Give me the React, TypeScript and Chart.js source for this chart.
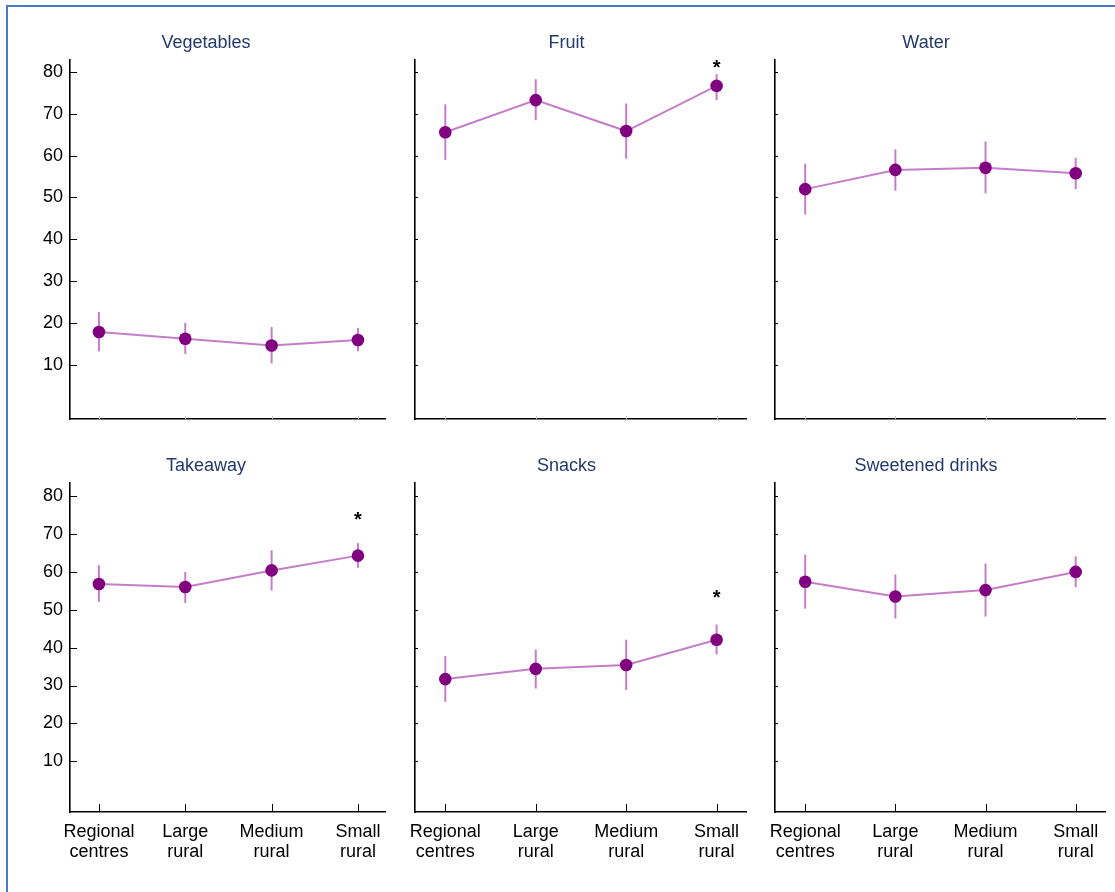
import React, { useEffect, useRef } from "react";
import { Chart, registerables } from "chart.js";

Chart.register(...registerables);

const FONT = "'Liberation Sans', Arial, sans-serif";

// ---- data ----
const categories = [
  ["Regional", "centres"],
  ["Large", "rural"],
  ["Medium", "rural"],
  ["Small", "rural"],
];
const yTickValues = [10, 20, 30, 40, 50, 60, 70, 80];

const vegetablesMean = [17.8, 16.2, 14.6, 15.9];
const vegetablesLow = [13.2, 12.6, 10.3, 13.2];
const vegetablesHigh = [22.6, 20.0, 19.0, 18.8];

const fruitMean = [65.6, 73.3, 65.9, 76.7];
const fruitLow = [59.0, 68.5, 59.3, 73.3];
const fruitHigh = [72.3, 78.3, 72.5, 79.5];

const waterMean = [52.0, 56.6, 57.1, 55.8];
const waterLow = [45.9, 51.6, 51.0, 52.0];
const waterHigh = [58.1, 61.5, 63.4, 59.5];

const takeawayMean = [56.8, 56.0, 60.4, 64.3];
const takeawayLow = [52.1, 51.8, 55.1, 61.1];
const takeawayHigh = [61.8, 60.0, 65.7, 67.6];

const snacksMean = [31.7, 34.4, 35.4, 42.1];
const snacksLow = [25.7, 29.2, 28.8, 38.2];
const snacksHigh = [37.8, 39.5, 42.1, 46.1];

const drinksMean = [57.4, 53.5, 55.2, 60.0];
const drinksLow = [50.3, 47.7, 48.2, 56.0];
const drinksHigh = [64.6, 59.3, 62.2, 64.1];

// y value at which a significance "*" is placed (null = none)
const vegetablesStars = [null, null, null, null];
const fruitStars = [null, null, null, 82.3];
const waterStars = [null, null, null, null];
const takeawayStars = [null, null, null, 75.2];
const snacksStars = [null, null, null, 54.6];
const drinksStars = [null, null, null, null];

const panels = [
  { title: "Vegetables", mean: vegetablesMean, low: vegetablesLow, high: vegetablesHigh, stars: vegetablesStars, row: 0, col: 0 },
  { title: "Fruit", mean: fruitMean, low: fruitLow, high: fruitHigh, stars: fruitStars, row: 0, col: 1 },
  { title: "Water", mean: waterMean, low: waterLow, high: waterHigh, stars: waterStars, row: 0, col: 2 },
  { title: "Takeaway", mean: takeawayMean, low: takeawayLow, high: takeawayHigh, stars: takeawayStars, row: 1, col: 0 },
  { title: "Snacks", mean: snacksMean, low: snacksLow, high: snacksHigh, stars: snacksStars, row: 1, col: 1 },
  { title: "Sweetened drinks", mean: drinksMean, low: drinksLow, high: drinksHigh, stars: drinksStars, row: 1, col: 2 },
];

// ---- layout ----
const colLeft = [26, 387, 747];
const colWidth = 360;
const colYAxisWidth = [44, 28, 28];
const colPadRight = [0, 1, 2];
const rowTop = [31, 455];
const rowHeight = [408, 413];
const rowXAxisHeight = [20, 56];
const rowTitlePad = [
  { top: 1, bottom: 6.4 },
  { top: 0, bottom: 6.7 },
];
const rowYRange = [
  [-3, 82.9],
  [-3.4, 83.4],
];

const LINE_COLOR = "#c47ec9";
const POINT_COLOR = "#800080";
const TITLE_COLOR = "#22396a";

function makeDecor(p: any) {
  return {
    id: "decor",
    beforeDatasetsDraw(chart: any) {
      const ctx = chart.ctx;
      const xs = chart.scales.x;
      const ys = chart.scales.y;
      ctx.save();
      ctx.strokeStyle = LINE_COLOR;
      ctx.lineWidth = 2;
      p.mean.forEach((_: number, i: number) => {
        const x = xs.getPixelForValue(i);
        ctx.beginPath();
        ctx.moveTo(x, ys.getPixelForValue(p.low[i]));
        ctx.lineTo(x, ys.getPixelForValue(p.high[i]));
        ctx.stroke();
      });
      ctx.restore();
    },
    afterDraw(chart: any) {
      const ctx = chart.ctx;
      const xs = chart.scales.x;
      const ys = chart.scales.y;
      const area = chart.chartArea;
      ctx.save();
      // inward y ticks
      ctx.strokeStyle = "#000";
      ctx.lineWidth = 1;
      const yLen = p.col === 0 ? 7 : 3;
      yTickValues.forEach((v) => {
        const y = Math.round(ys.getPixelForValue(v)) + 0.5;
        ctx.beginPath();
        ctx.moveTo(area.left, y);
        ctx.lineTo(area.left + yLen, y);
        ctx.stroke();
      });
      // inward x ticks
      ctx.strokeStyle = p.row === 1 ? "#000" : "#c8c8c8";
      const xLen = p.row === 1 ? 8 : 3;
      categories.forEach((_, i) => {
        const x = Math.round(xs.getPixelForValue(i)) + 0.5;
        ctx.beginPath();
        ctx.moveTo(x, area.bottom);
        ctx.lineTo(x, area.bottom - xLen);
        ctx.stroke();
      });
      // significance stars
      ctx.fillStyle = "#000";
      ctx.font = `bold 20px ${FONT}`;
      ctx.textAlign = "center";
      ctx.textBaseline = "alphabetic";
      p.stars.forEach((s: number | null, i: number) => {
        if (s === null) return;
        const x = xs.getPixelForValue(i);
        const y = ys.getPixelForValue(s);
        ctx.fillText("*", x, y + 0.57 * 20);
      });
      ctx.restore();
    },
  };
}

function Panel({ p }: { p: any }) {
  const ref = useRef<HTMLCanvasElement>(null);
  useEffect(() => {
    if (!ref.current) return;
    const border = { display: true, color: "#000", width: 1.6 };
    const chart = new Chart(ref.current, {
      type: "line",
      data: {
        datasets: [
          {
            data: p.mean.map((v: number, i: number) => ({ x: i, y: v })),
            borderColor: LINE_COLOR,
            borderWidth: 2,
            pointRadius: 6.3,
            pointBackgroundColor: POINT_COLOR,
            pointBorderColor: POINT_COLOR,
            pointBorderWidth: 0,
            tension: 0,
          },
        ],
      },
      options: {
        responsive: false,
        animation: false,
        devicePixelRatio: 1,
        layout: { autoPadding: false, padding: { left: 0, right: colPadRight[p.col], top: 0, bottom: 0 } },
        plugins: {
          legend: { display: false },
          tooltip: { enabled: false },
          title: {
            display: true,
            text: p.title,
            color: TITLE_COLOR,
            font: { size: 18, family: FONT, weight: "normal", lineHeight: 1.2 },
            padding: rowTitlePad[p.row],
          },
        },
        scales: {
          x: {
            type: "linear",
            min: -0.335,
            max: 3.325,
            grid: { display: false, drawTicks: false },
            border,
            afterBuildTicks: (s: any) => {
              s.ticks = categories.map((_, i) => ({ value: i }));
            },
            afterFit: (s: any) => {
              s.height = rowXAxisHeight[p.row];
              s.paddingLeft = 0;
              s.paddingRight = 0;
            },
            ticks: {
              display: p.row === 1,
              padding: 10,
              color: "#000",
              maxRotation: 0,
              autoSkip: false,
              font: { size: 18, family: FONT, lineHeight: 1.1 },
              callback: (v: any) => (Number.isInteger(v) ? categories[v] : ""),
            },
          },
          y: {
            min: rowYRange[p.row][0],
            max: rowYRange[p.row][1],
            grid: { display: false, drawTicks: false },
            border,
            afterBuildTicks: (s: any) => {
              s.ticks = yTickValues.map((v) => ({ value: v }));
            },
            afterFit: (s: any) => {
              s.width = colYAxisWidth[p.col];
            },
            ticks: {
              display: p.col === 0,
              padding: 7,
              color: "#000",
              font: { size: 18, family: FONT },
            },
          },
        },
      } as any,
      plugins: [makeDecor(p)],
    });
    return () => chart.destroy();
  }, [p]);
  return (
    <canvas
      ref={ref}
      width={colWidth}
      height={rowHeight[p.row]}
      style={{
        position: "absolute",
        left: colLeft[p.col],
        top: rowTop[p.row],
        width: colWidth,
        height: rowHeight[p.row],
        display: "block",
      }}
    />
  );
}

export default function App() {
  return (
    <div
      style={{
        position: "fixed",
        left: 0,
        top: 0,
        width: 1115,
        height: 892,
        overflow: "hidden",
        background: "#fff",
      }}
    >
      <div
        style={{
          position: "absolute",
          left: 6,
          top: 5,
          width: 1200,
          height: 1000,
          border: "2px solid #4a78cc",
          boxSizing: "border-box",
        }}
      />
      {panels.map((p) => (
        <Panel key={p.title} p={p} />
      ))}
    </div>
  );
}
